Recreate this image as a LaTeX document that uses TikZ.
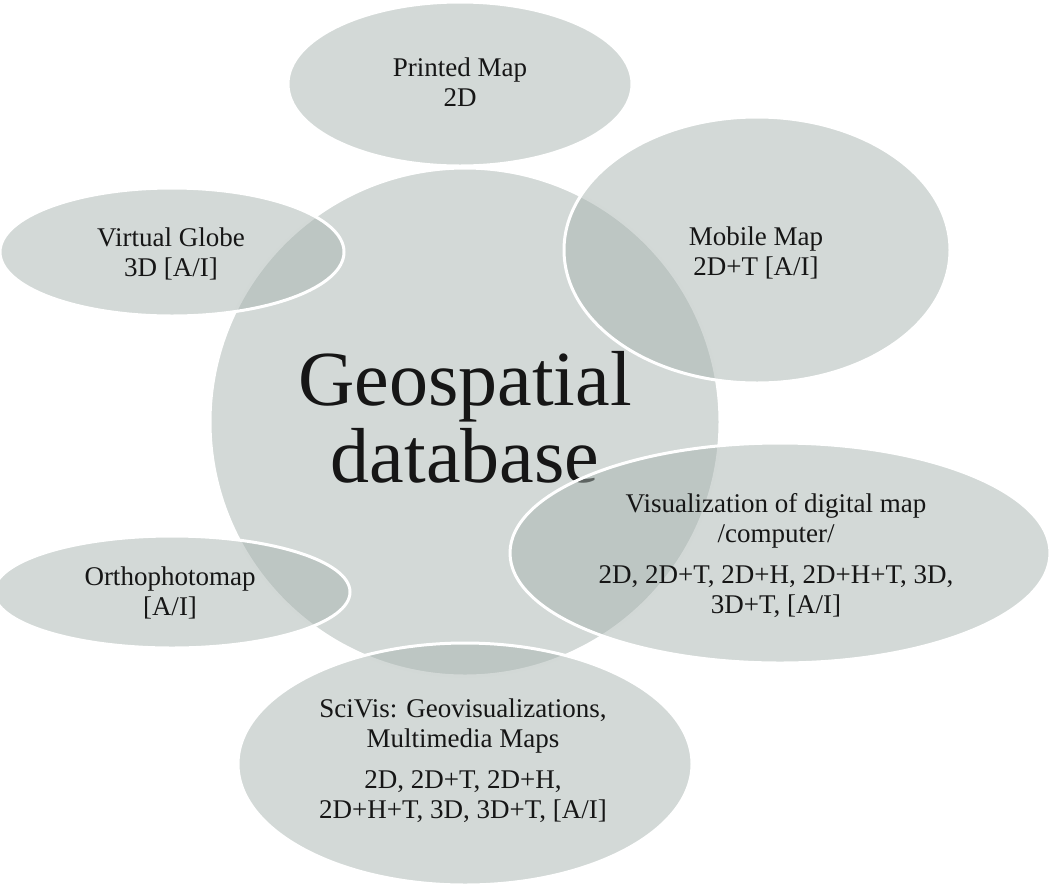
\documentclass[tikz,border=0pt]{standalone}
\usepackage{fontspec}
\setmainfont{Liberation Serif}
\usetikzlibrary{shapes.geometric}
\definecolor{bubblefill}{RGB}{167,179,175}
\definecolor{inktext}{RGB}{22,22,22}
\tikzset{
  bubble/.style={ellipse, inner sep=0pt, fill=bubblefill, fill opacity=0.5,
                 draw=white, line width=3pt},
  label27/.style={inner sep=0pt, align=center, text=inktext,
                  font=\fontsize{27}{30}\selectfont},
  bigtext/.style={inner sep=0pt, align=center, text=inktext,
                  font=\fontsize{78}{77}\selectfont}
}
\begin{document}
\begin{tikzpicture}[x=1pt, y=-1pt]
\useasboundingbox (0,0) rectangle (1052,887);
% central circle
\node[bubble, minimum width=510pt, minimum height=508pt] (core) at (465,422) {};
\node[bigtext] (coretext) at (465,417.5) {Geospatial\\database};
% satellites
\node[bubble, minimum width=344pt, minimum height=164pt] (printed) at (460,84) {};
\node[bubble, minimum width=344pt, minimum height=128pt] (globe) at (172,252) {};
\node[bubble, minimum width=386pt, minimum height=266pt] (mobile) at (757,250) {};
\node[bubble, minimum width=540pt, minimum height=220pt] (visual) at (780,553) {};
\node[bubble, minimum width=356pt, minimum height=112pt] (ortho) at (172,592) {};
\node[bubble, minimum width=454pt, minimum height=242pt] (scivis) at (465,764) {};
% labels
\node[label27] (printedtext) at (460,82) {Printed Map\\2D};
\node[label27] (globetext) at (171,254) {Virtual Globe\\3D [A/I]};
\node[label27] (mobiletext) at (756,253) {Mobile Map\\2D+T [A/I]};
\node[label27] (visualtext) at (776,555.5) {Visualization of digital map\\/computer/\\[11pt]2D, 2D+T, 2D+H, 2D+H+T, 3D,\\3D+T, [A/I]};
\node[label27] (orthotext) at (170,592.5) {Orthophotomap\\{}[A/I]};
\node[label27] (scivistext) at (463,760.5) {SciVis: Geovisualizations,\\Multimedia Maps\\[11pt]2D, 2D+T, 2D+H,\\2D+H+T, 3D, 3D+T, [A/I]};
\end{tikzpicture}
\end{document}
